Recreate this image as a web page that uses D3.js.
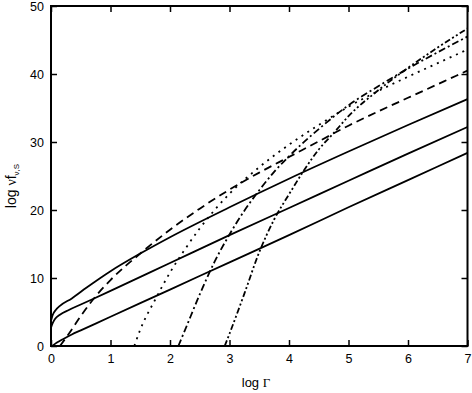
<!DOCTYPE html>
<html>
<head>
<meta charset="utf-8">
<script src="https://cdn.jsdelivr.net/npm/d3@7"></script>
<style>
  body { margin: 0; background: #fff; }
  svg { display: block; font-family: "Liberation Sans", Arial, sans-serif; }
</style>
</head>
<body>
<svg id="chart" width="472" height="393"></svg>
<script>
// tick values
const xTicks = [0, 1, 2, 3, 4, 5, 6, 7];
const yTicks = [0, 10, 20, 30, 40, 50];

// curves: [log Gamma, log nu f]
const solidUpper = [[0, 3.7], [0.03, 4.6], [0.08, 5.3], [0.15, 5.9], [0.35, 7.0], [0.6, 8.6],
  [1, 11.0], [1.5, 13.6], [2, 16.0], [3, 20.4], [4, 24.6], [5, 28.6], [6, 32.5], [7, 36.3]];
const solidMiddle = [[0, 2.7], [0.03, 3.4], [0.07, 4.0], [0.15, 4.6], [0.3, 5.3], [0.5, 6.1],
  [1, 8.1], [2, 12.2], [3, 16.3], [4, 20.3], [5, 24.3], [6, 28.3], [7, 32.2]];
const solidLower = [[0.02, 0], [0.1, 0.5], [0.2, 1.0], [0.35, 1.7], [0.5, 2.3], [1, 4.3],
  [2, 8.3], [3, 12.3], [4, 16.3], [5, 20.4], [6, 24.4], [7, 28.4]];
const dashed = [[0.15, 0], [0.3, 1.8], [0.5, 4.4], [0.75, 7.3], [1, 9.7], [1.5, 13.6],
  [2, 17.1], [2.5, 20.2], [3, 23.0], [3.5, 25.5], [4, 27.8], [4.5, 30.1], [5, 32.4],
  [5.5, 34.5], [6, 36.5], [6.5, 38.5], [7, 40.5]];
const dotted = [[1.4, 0], [1.5, 2.4], [1.75, 6.8], [2, 10.8], [2.25, 14.2], [2.5, 17.3],
  [2.75, 20.0], [3, 22.4], [3.5, 26.3], [4, 29.6], [4.5, 32.5], [5, 35.2], [5.5, 37.5],
  [6, 39.6], [6.5, 41.6], [7, 43.6]];
const dashDot = [[2.14, 0], [2.25, 2.3], [2.5, 7.6], [2.75, 12.4], [3, 16.4], [3.25, 19.9],
  [3.5, 22.9], [3.75, 25.6], [4, 27.9], [4.5, 31.9], [5, 35.4], [5.5, 38.2], [6, 40.8],
  [6.5, 43.2], [7, 45.5]];
const dashDotDot = [[2.92, 0], [3, 1.8], [3.25, 7.7], [3.5, 13.8], [3.75, 18.6], [4, 22.3],
  [4.25, 25.8], [4.5, 28.9], [4.75, 31.3], [5, 33.8], [5.5, 37.6], [6, 40.9], [6.5, 43.9],
  [7, 46.7]];

const curves = [
  { values: solidUpper, dash: null },
  { values: solidMiddle, dash: null },
  { values: solidLower, dash: null },
  { values: dashed, dash: "8,5" },
  { values: dotted, dash: "2,5" },
  { values: dashDot, dash: "7,3,2,3" },
  { values: dashDotDot, dash: "6,2.5,2,2.5,2,2.5" },
];

const margin = { top: 6, right: 4.5, bottom: 47, left: 51 };
const width = 472 - margin.left - margin.right;
const height = 393 - margin.top - margin.bottom;

const svg = d3.select("#chart");
const chart = svg.append("g").attr("transform", `translate(${margin.left}, ${margin.top})`);

const x = d3.scaleLinear().domain([0, 7]).range([0, width]);
const y = d3.scaleLinear().domain([0, 50]).range([height, 0]);

svg.append("defs").append("clipPath").attr("id", "plot")
  .append("rect").attr("width", width).attr("height", height);

const fmt = d3.format("d");

// ticks point inward on all four sides
chart.append("g").attr("transform", `translate(0, ${height})`)
  .call(d3.axisBottom(x).tickValues(xTicks).tickFormat(fmt)
    .tickSizeInner(-6).tickSizeOuter(0).tickPadding(8));
chart.append("g")
  .call(d3.axisLeft(y).tickValues(yTicks).tickFormat(fmt)
    .tickSizeInner(-6).tickSizeOuter(0).tickPadding(7));
chart.append("g")
  .call(d3.axisTop(x).tickValues(xTicks).tickSizeInner(-6).tickSizeOuter(0).tickFormat(""));
chart.append("g").attr("transform", `translate(${width}, 0)`)
  .call(d3.axisRight(y).tickValues(yTicks).tickSizeInner(-6).tickSizeOuter(0).tickFormat(""));

chart.selectAll(".domain").remove();
chart.selectAll(".tick line").attr("stroke", "#000").attr("stroke-width", 1.5);
chart.selectAll(".tick text")
  .attr("fill", "#000")
  .style("font-size", "12.5px")
  .style("font-family", '"Liberation Sans", Arial, sans-serif');

const line = d3.line()
  .x((d) => x(d[0]))
  .y((d) => y(d[1]))
  .curve(d3.curveMonotoneX);

chart.append("g").attr("clip-path", "url(#plot)")
  .selectAll("path")
  .data(curves)
  .enter()
  .append("path")
  .attr("d", (c) => line(c.values))
  .attr("fill", "none")
  .attr("stroke", "#000")
  .attr("stroke-width", 1.8)
  .attr("stroke-dasharray", (c) => c.dash);

// frame
chart.append("rect")
  .attr("width", width)
  .attr("height", height)
  .attr("fill", "none")
  .attr("stroke", "#000")
  .attr("stroke-width", 2);

// X axis label
const xLabel = svg.append("text")
  .attr("x", 256)
  .attr("y", 387)
  .attr("text-anchor", "middle")
  .style("font-size", "13px");
xLabel.append("tspan").text("log ");
xLabel.append("tspan").style("font-family", '"Liberation Serif", serif').text("Γ");

// Y axis label
const yLabel = svg.append("text")
  .attr("transform", "translate(15.5, 186) rotate(-90)")
  .attr("text-anchor", "middle")
  .style("font-size", "14px");
yLabel.append("tspan").text("log ");
yLabel.append("tspan").style("font-family", '"Liberation Serif", serif').text("ν");
yLabel.append("tspan").text("f");
yLabel.append("tspan").attr("dy", 3).style("font-size", "8px").text("ν,S");
</script>
</body>
</html>
